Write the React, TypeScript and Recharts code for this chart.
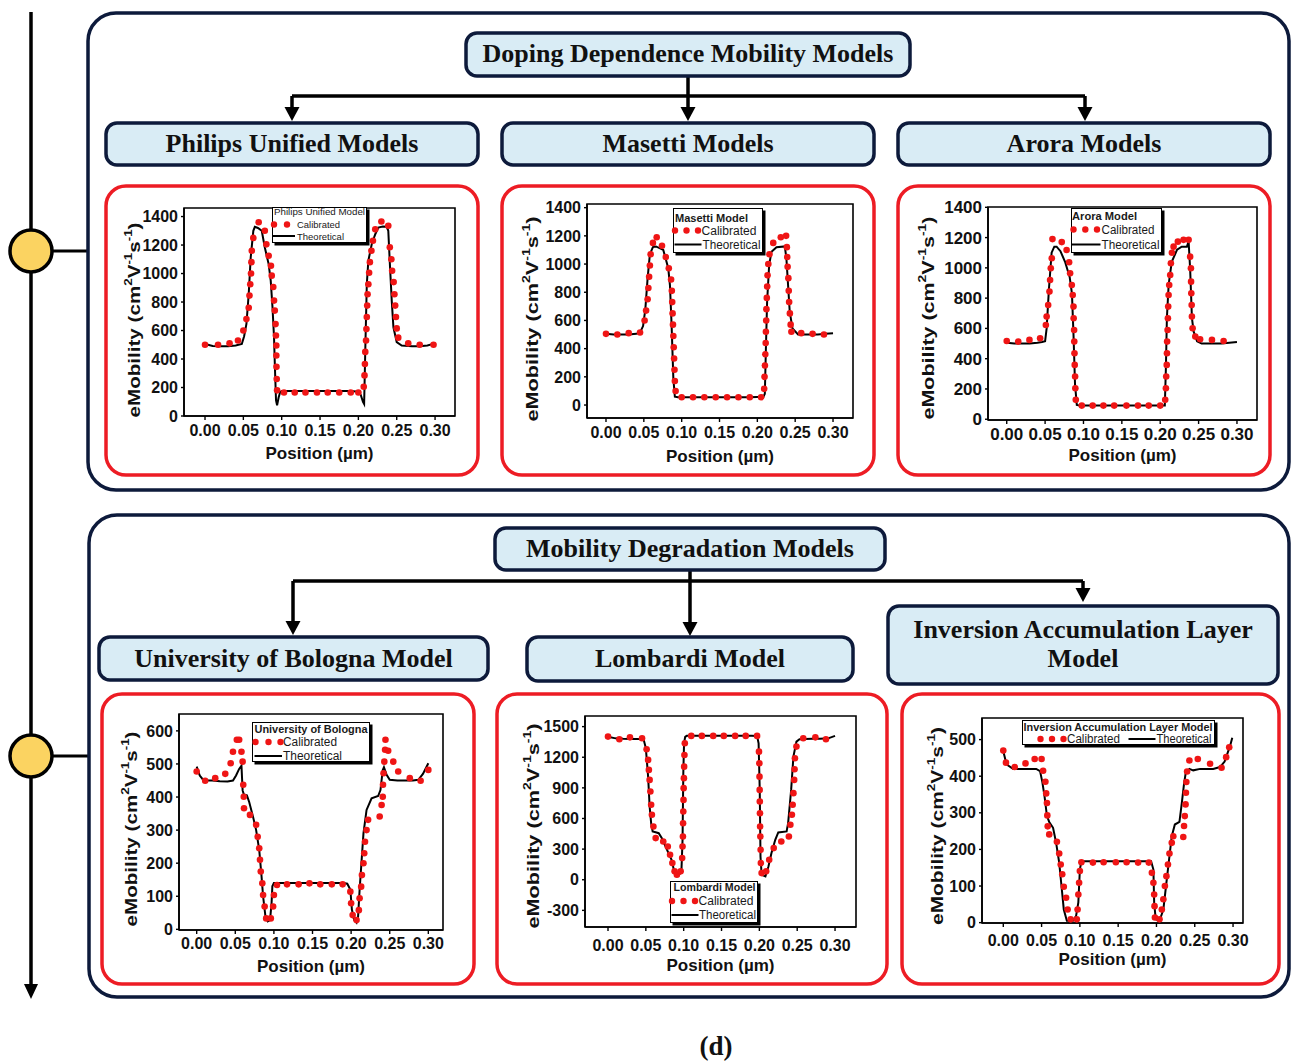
import React from "react";
import {
  ComposedChart,
  Line,
  Scatter,
  XAxis,
  YAxis,
  ReferenceArea,
  Legend,
} from "recharts";

const SANS = "'Liberation Sans', Arial, sans-serif";
const SERIF = "'Liberation Serif', 'Times New Roman', serif";
const NAVY = "#0d1a3b";
const PALE = "#d9ecf5";
const RED = "#ed1c24";
const DOT = "#ef1515";

const xTicks = [0, 0.05, 0.1, 0.15, 0.2, 0.25, 0.3];
const seriesNames = ["Calibrated", "Theoretical"];

// Philips Unified Model
const philipsTheoX = [0, 0.01, 0.02, 0.03, 0.04, 0.048, 0.051, 0.054, 0.057, 0.0596, 0.063, 0.065, 0.069, 0.074, 0.078, 0.083, 0.0857, 0.088, 0.09, 0.0913, 0.0926, 0.094, 0.096, 0.098, 0.1, 0.13, 0.16, 0.19, 0.2, 0.203, 0.206, 0.2075, 0.209, 0.211, 0.213, 0.2174, 0.222, 0.226, 0.232, 0.237, 0.239, 0.2413, 0.2435, 0.2457, 0.25, 0.2565, 0.27, 0.28, 0.29, 0.3];
const philipsTheoY = [505, 492, 490, 490, 495, 506, 560, 646, 856, 1113, 1300, 1328, 1320, 1300, 1183, 1066, 950, 763, 553, 320, 110, 75, 130, 168, 175, 175, 175, 175, 170, 150, 100, 85, 460, 926, 1090, 1206, 1276, 1323, 1330, 1328, 1300, 1043, 810, 623, 518, 495, 490, 490, 495, 510];
const philipsCalX = [0, 0.017, 0.032, 0.043, 0.05, 0.054, 0.057, 0.058, 0.059, 0.06, 0.0605, 0.061, 0.063, 0.07, 0.078, 0.08, 0.083, 0.086, 0.087, 0.089, 0.09, 0.091, 0.092, 0.0925, 0.093, 0.093, 0.0932, 0.0935, 0.094, 0.103, 0.117, 0.131, 0.146, 0.16, 0.175, 0.19, 0.2, 0.207, 0.208, 0.2085, 0.209, 0.21, 0.2105, 0.211, 0.2115, 0.212, 0.213, 0.214, 0.215, 0.217, 0.219, 0.222, 0.23, 0.239, 0.241, 0.243, 0.244, 0.246, 0.247, 0.248, 0.249, 0.25, 0.252, 0.265, 0.28, 0.298];
const philipsCalY = [500, 500, 510, 530, 600, 680, 760, 845, 925, 1000, 1080, 1160, 1250, 1360, 1300, 1205, 1125, 1055, 985, 905, 810, 740, 645, 565, 495, 425, 345, 260, 180, 165, 165, 165, 165, 165, 165, 165, 165, 205, 285, 365, 450, 530, 610, 695, 775, 855, 925, 1005, 1080, 1160, 1230, 1310, 1365, 1335, 1185, 1100, 1020, 940, 855, 775, 695, 615, 550, 510, 500, 500];
const philipsYTicks = [0, 200, 400, 600, 800, 1000, 1200, 1400];

// Masetti Model
const masettiTheoX = [0, 0.01, 0.02, 0.03, 0.04, 0.045, 0.049, 0.052, 0.055, 0.058, 0.062, 0.066, 0.0757, 0.0823, 0.0845, 0.0867, 0.089, 0.091, 0.095, 0.13, 0.16, 0.19, 0.208, 0.2099, 0.2112, 0.2129, 0.2156, 0.2187, 0.2253, 0.2363, 0.2384, 0.2406, 0.2428, 0.2464, 0.2538, 0.27, 0.28, 0.29, 0.3];
const masettiTheoY = [505, 500, 500, 500, 505, 515, 560, 680, 900, 1070, 1120, 1125, 1100, 970, 851, 567, 189, 59, 55, 55, 55, 55, 58, 80, 378, 733, 993, 1088, 1120, 1125, 1040, 851, 662, 544, 501, 500, 500, 505, 510];
const masettiCalX = [0, 0.015, 0.03, 0.045, 0.051, 0.053, 0.055, 0.056, 0.057, 0.058, 0.059, 0.062, 0.067, 0.074, 0.079, 0.083, 0.086, 0.087, 0.0875, 0.088, 0.0885, 0.089, 0.0895, 0.09, 0.0905, 0.091, 0.092, 0.1, 0.115, 0.13, 0.145, 0.16, 0.175, 0.19, 0.205, 0.209, 0.2095, 0.21, 0.2105, 0.211, 0.2113, 0.2117, 0.212, 0.2125, 0.213, 0.2135, 0.2145, 0.216, 0.221, 0.231, 0.238, 0.239, 0.2395, 0.24, 0.241, 0.2415, 0.242, 0.243, 0.244, 0.245, 0.258, 0.273, 0.288];
const masettiCalY = [505, 500, 510, 515, 600, 670, 750, 830, 910, 990, 1070, 1150, 1190, 1130, 1050, 970, 890, 810, 730, 650, 570, 490, 410, 330, 250, 170, 100, 55, 55, 55, 55, 55, 55, 55, 55, 115, 200, 280, 360, 440, 520, 600, 680, 760, 840, 920, 1000, 1070, 1150, 1190, 1200, 1120, 1050, 980, 900, 810, 730, 650, 570, 520, 510, 505, 500];
const masettiYTicks = [0, 200, 400, 600, 800, 1000, 1200, 1400];

// Arora Model
const aroraTheoX = [0, 0.01, 0.02, 0.03, 0.04, 0.046, 0.05, 0.052, 0.055, 0.0585, 0.062, 0.065, 0.07, 0.076, 0.082, 0.085, 0.087, 0.089, 0.0913, 0.095, 0.13, 0.16, 0.19, 0.206, 0.2074, 0.2087, 0.211, 0.215, 0.222, 0.228, 0.2348, 0.237, 0.239, 0.2413, 0.2435, 0.248, 0.254, 0.26, 0.27, 0.28, 0.29, 0.3];
const aroraTheoY = [505, 500, 500, 500, 505, 510, 515, 600, 860, 1100, 1140, 1140, 1110, 1040, 940, 830, 560, 230, 95, 90, 90, 90, 90, 90, 340, 670, 890, 1040, 1120, 1140, 1140, 1175, 990, 670, 580, 515, 500, 500, 500, 500, 505, 510];
const aroraCalX = [0, 0.015, 0.0296, 0.0435, 0.051, 0.052, 0.054, 0.0557, 0.0565, 0.0574, 0.0587, 0.0596, 0.0717, 0.078, 0.0813, 0.0826, 0.0848, 0.086, 0.087, 0.0872, 0.0878, 0.088, 0.0883, 0.0886, 0.0891, 0.0894, 0.09, 0.0978, 0.112, 0.126, 0.14, 0.156, 0.171, 0.185, 0.2, 0.2065, 0.2074, 0.2078, 0.2085, 0.2088, 0.209, 0.2096, 0.21, 0.2104, 0.2109, 0.2117, 0.213, 0.2139, 0.2152, 0.2174, 0.223, 0.2304, 0.237, 0.239, 0.24, 0.2402, 0.2405, 0.241, 0.2413, 0.2422, 0.2457, 0.252, 0.2674, 0.2826];
const aroraCalY = [517, 513, 524, 535, 623, 678, 755, 843, 920, 997, 1063, 1190, 1170, 1118, 1037, 964, 887, 821, 744, 667, 590, 513, 436, 359, 282, 205, 128, 90, 90, 90, 90, 90, 90, 90, 90, 128, 205, 282, 359, 436, 513, 590, 667, 744, 821, 887, 953, 1030, 1100, 1140, 1173, 1185, 1185, 1074, 997, 909, 832, 755, 678, 601, 546, 528, 524, 517];
const aroraYTicks = [0, 200, 400, 600, 800, 1000, 1200, 1400];

// University of Bologna
const bolognaTheoX = [0, 0.004, 0.009, 0.02, 0.03, 0.04, 0.047, 0.051, 0.055, 0.058, 0.0595, 0.061, 0.065, 0.068, 0.073, 0.077, 0.081, 0.084, 0.086, 0.089, 0.092, 0.095, 0.097, 0.098, 0.1, 0.13, 0.16, 0.19, 0.195, 0.199, 0.201, 0.204, 0.207, 0.209, 0.211, 0.216, 0.22, 0.2265, 0.235, 0.238, 0.241, 0.2425, 0.246, 0.25, 0.26, 0.27, 0.28, 0.287, 0.293, 0.3];
const bolognaTheoY = [492, 465, 450, 450, 448, 447, 450, 465, 485, 495, 420, 408, 405, 385, 340, 300, 240, 160, 100, 40, 24, 28, 80, 130, 140, 140, 140, 140, 138, 120, 60, 28, 20, 38, 119, 290, 361, 396, 403, 421, 482, 490, 467, 452, 450, 450, 450, 452, 470, 502];
const bolognaCalX = [0, 0.011, 0.024, 0.037, 0.044, 0.047, 0.052, 0.055, 0.058, 0.0595, 0.0603, 0.061, 0.0613, 0.069, 0.077, 0.079, 0.081, 0.082, 0.083, 0.085, 0.086, 0.088, 0.09, 0.096, 0.099, 0.1, 0.104, 0.117, 0.132, 0.146, 0.16, 0.175, 0.189, 0.199, 0.2, 0.202, 0.207, 0.21, 0.211, 0.213, 0.214, 0.216, 0.217, 0.218, 0.22, 0.222, 0.237, 0.2395, 0.241, 0.2413, 0.242, 0.243, 0.244, 0.2445, 0.248, 0.2546, 0.261, 0.276, 0.29, 0.3];
const bolognaCalY = [477, 449, 457, 470, 502, 537, 573, 573, 537, 507, 437, 401, 366, 346, 316, 280, 245, 210, 175, 139, 104, 69, 33, 33, 69, 104, 134, 136, 136, 139, 136, 136, 136, 114, 79, 43, 28, 58, 94, 129, 164, 200, 230, 265, 300, 331, 341, 376, 401, 437, 472, 507, 543, 573, 540, 507, 477, 457, 449, 482];
const bolognaYTicks = [0, 100, 200, 300, 400, 500, 600];

// Lombardi Model
const lombardiTheoX = [0, 0.01, 0.02, 0.03, 0.04, 0.047, 0.05, 0.053, 0.055, 0.057, 0.059, 0.063, 0.067, 0.071, 0.078, 0.084, 0.087, 0.089, 0.093, 0.097, 0.0985, 0.0995, 0.1005, 0.102, 0.104, 0.13, 0.16, 0.19, 0.197, 0.199, 0.2005, 0.2015, 0.203, 0.208, 0.212, 0.216, 0.221, 0.225, 0.236, 0.238, 0.242, 0.245, 0.249, 0.253, 0.26, 0.27, 0.28, 0.291, 0.3];
const lombardiTheoY = [1400, 1385, 1380, 1378, 1378, 1376, 1290, 1010, 717, 554, 473, 465, 456, 408, 293, 196, 98, 49, 39, 82, 391, 1040, 1340, 1400, 1410, 1410, 1410, 1410, 1408, 1337, 880, 228, 49, 33, 130, 261, 391, 463, 473, 554, 880, 1206, 1353, 1376, 1378, 1380, 1380, 1385, 1409];
const lombardiCalX = [0, 0.015, 0.029, 0.045, 0.051, 0.053, 0.054, 0.055, 0.056, 0.057, 0.058, 0.06, 0.063, 0.073, 0.079, 0.082, 0.085, 0.088, 0.091, 0.096, 0.098, 0.0985, 0.099, 0.0992, 0.0995, 0.0998, 0.1, 0.1003, 0.1006, 0.101, 0.1015, 0.11, 0.124, 0.139, 0.153, 0.168, 0.182, 0.197, 0.1995, 0.2, 0.2002, 0.2004, 0.2006, 0.2008, 0.201, 0.2013, 0.2017, 0.202, 0.203, 0.209, 0.213, 0.219, 0.229, 0.239, 0.241, 0.243, 0.244, 0.245, 0.246, 0.2465, 0.247, 0.249, 0.258, 0.274, 0.288];
const lombardiCalY = [1402, 1376, 1395, 1386, 1278, 1174, 1076, 978, 864, 734, 636, 522, 408, 375, 326, 245, 163, 82, 49, 82, 212, 326, 424, 554, 668, 782, 897, 995, 1108, 1222, 1337, 1409, 1409, 1409, 1409, 1409, 1409, 1409, 1255, 1141, 1010, 880, 766, 652, 522, 424, 293, 163, 65, 82, 196, 310, 375, 424, 538, 636, 734, 848, 978, 1082, 1190, 1304, 1386, 1395, 1376];
const lombardiYTicks = [-300, 0, 300, 600, 900, 1200, 1500];

// Inversion Accumulation Layer Model
const inversionTheoX = [0, 0.0043, 0.013, 0.02, 0.03, 0.043, 0.048, 0.051, 0.054, 0.057, 0.06, 0.065, 0.069, 0.073, 0.076, 0.079, 0.083, 0.091, 0.095, 0.098, 0.1, 0.102, 0.13, 0.16, 0.193, 0.196, 0.197, 0.199, 0.204, 0.209, 0.213, 0.217, 0.22, 0.224, 0.23, 0.233, 0.236, 0.238, 0.243, 0.248, 0.257, 0.274, 0.283, 0.289, 0.296, 0.299];
const inversionTheoY = [468, 432, 420, 420, 420, 420, 414, 384, 343, 291, 275, 259, 218, 164, 100, 36, 5, 5, 18, 55, 145, 168, 168, 168, 168, 145, 55, 9, 5, 36, 109, 182, 236, 268, 275, 325, 379, 406, 420, 416, 420, 420, 425, 440, 482, 505];
const inversionCalX = [0, 0.0035, 0.015, 0.029, 0.041, 0.05, 0.052, 0.055, 0.056, 0.057, 0.0575, 0.058, 0.06, 0.07, 0.073, 0.075, 0.077, 0.079, 0.082, 0.084, 0.088, 0.096, 0.097, 0.098, 0.099, 0.1, 0.102, 0.117, 0.131, 0.147, 0.161, 0.176, 0.19, 0.194, 0.196, 0.197, 0.1975, 0.198, 0.204, 0.207, 0.209, 0.211, 0.213, 0.215, 0.217, 0.22, 0.222, 0.235, 0.236, 0.237, 0.238, 0.2385, 0.239, 0.24, 0.243, 0.254, 0.27, 0.285, 0.291, 0.295];
const inversionCalY = [470, 437, 425, 435, 447, 447, 415, 385, 353, 327, 293, 263, 241, 221, 189, 159, 132, 98, 68, 36, 9, 9, 36, 77, 109, 141, 165, 164, 165, 165, 165, 164, 164, 136, 109, 77, 45, 14, 9, 36, 64, 100, 127, 159, 189, 218, 236, 234, 264, 291, 323, 355, 384, 413, 443, 447, 434, 423, 452, 479];
const inversionYTicks = [0, 100, 200, 300, 400, 500];

type Pt = { x: number; y: number };
type Box = { x: number; y: number; w: number; h: number };
type Plot = { l: number; t: number; r: number; b: number };

type LegendSpec = {
  x: number;
  y: number;
  w: number;
  h: number;
  title: string;
  titleX: number;
  titleY: number;
  titleSize: number;
  titleBold: boolean;
  titleLen: number;
  rowSize: number;
  calY: number;
  calDots: number[];
  calTextX: number;
  calLen: number;
  theoY: number;
  theoLine: [number, number];
  theoTextX: number;
  theoLen: number;
};

type PanelSpec = {
  key: string;
  box: Box;
  plot: Plot;
  xDomain: [number, number];
  yDomain: [number, number];
  yTicks: number[];
  tickFont: number;
  xTickGap: number;
  yLabel: { x: number; y: number; len: number };
  xLabelDy: number;
  theoX: number[];
  theoY: number[];
  calX: number[];
  calY: number[];
  legend: LegendSpec;
};

const zip = (xs: number[], ys: number[]): Pt[] =>
  xs.map((x, i) => ({ x, y: ys[i] }));

const panels: PanelSpec[] = [
  {
    key: "philips",
    box: { x: 106, y: 186, w: 372, h: 289 },
    plot: { l: 184, t: 208, r: 455, b: 416 },
    xDomain: [-0.0274, 0.326],
    yDomain: [0, 1460],
    yTicks: philipsYTicks,
    tickFont: 16,
    xTickGap: 5,
    yLabel: { x: 134, y: 320, len: 195 },
    xLabelDy: 37,
    theoX: philipsTheoX,
    theoY: philipsTheoY,
    calX: philipsCalX,
    calY: philipsCalY,
    legend: {
      x: 272, y: 207, w: 95, h: 36,
      title: "Philips Unified Model", titleX: 2, titleY: 4.5, titleSize: 9.5, titleBold: false, titleLen: 91,
      rowSize: 9.5, calY: 17.5, calDots: [2, 15], calTextX: 25, calLen: 43,
      theoY: 29, theoLine: [1, 23], theoTextX: 25, theoLen: 47,
    },
  },
  {
    key: "masetti",
    box: { x: 502, y: 186, w: 372, h: 289 },
    plot: { l: 587, t: 204, r: 853, b: 418 },
    xDomain: [-0.0251, 0.3264],
    yDomain: [-92, 1426],
    yTicks: masettiYTicks,
    tickFont: 16,
    xTickGap: 5,
    yLabel: { x: 532, y: 319, len: 205 },
    xLabelDy: 38,
    theoX: masettiTheoX,
    theoY: masettiTheoY,
    calX: masettiCalX,
    calY: masettiCalY,
    legend: {
      x: 673, y: 208, w: 90, h: 45,
      title: "Masetti Model", titleX: 2, titleY: 9.5, titleSize: 11, titleBold: true, titleLen: 73,
      rowSize: 12, calY: 22.5, calDots: [2, 13.5, 25], calTextX: 28.5, calLen: 55,
      theoY: 36.5, theoLine: [1.5, 28.5], theoTextX: 29.5, theoLen: 58,
    },
  },
  {
    key: "arora",
    box: { x: 898, y: 186, w: 372, h: 289 },
    plot: { l: 988, t: 207, r: 1257, b: 420 },
    xDomain: [-0.0244, 0.3261],
    yDomain: [-5, 1402],
    yTicks: aroraYTicks,
    tickFont: 17,
    xTickGap: 4,
    yLabel: { x: 928, y: 318, len: 203 },
    xLabelDy: 35,
    theoX: aroraTheoX,
    theoY: aroraTheoY,
    calX: aroraCalX,
    calY: aroraCalY,
    legend: {
      x: 1071, y: 208, w: 91, h: 45,
      title: "Arora Model", titleX: 1, titleY: 8, titleSize: 11, titleBold: true, titleLen: 65,
      rowSize: 12, calY: 21.5, calDots: [2.5, 14.3, 26], calTextX: 30.5, calLen: 53,
      theoY: 36.5, theoLine: [1, 29.5], theoTextX: 30.5, theoLen: 58,
    },
  },
  {
    key: "bologna",
    box: { x: 102, y: 694, w: 372, h: 290 },
    plot: { l: 179, t: 714, r: 443, b: 930 },
    xDomain: [-0.0229, 0.319],
    yDomain: [-2, 651],
    yTicks: bolognaYTicks,
    tickFont: 16,
    xTickGap: 4,
    yLabel: { x: 131, y: 829, len: 195 },
    xLabelDy: 36,
    theoX: bolognaTheoX,
    theoY: bolognaTheoY,
    calX: bolognaCalX,
    calY: bolognaCalY,
    legend: {
      x: 252, y: 722, w: 118, h: 40,
      title: "University of Bologna", titleX: 2.5, titleY: 6.5, titleSize: 11, titleBold: true, titleLen: 113,
      rowSize: 12, calY: 20, calDots: [3.5, 16.5, 28.5], calTextX: 31, calLen: 54,
      theoY: 34, theoLine: [2.5, 30], theoTextX: 31, theoLen: 59,
    },
  },
  {
    key: "lombardi",
    box: { x: 497, y: 694, w: 390, h: 290 },
    plot: { l: 585, t: 716, r: 856, b: 927 },
    xDomain: [-0.0304, 0.3277],
    yDomain: [-463, 1604],
    yTicks: lombardiYTicks,
    tickFont: 16,
    xTickGap: 9,
    yLabel: { x: 533, y: 826, len: 205 },
    xLabelDy: 38,
    theoX: lombardiTheoX,
    theoY: lombardiTheoY,
    calX: lombardiCalX,
    calY: lombardiCalY,
    legend: {
      x: 670, y: 881, w: 88, h: 42,
      title: "Lombardi Model", titleX: 3.5, titleY: 6.5, titleSize: 10, titleBold: true, titleLen: 82,
      rowSize: 12, calY: 20, calDots: [2, 13.5, 25], calTextX: 28.5, calLen: 55,
      theoY: 34, theoLine: [1.5, 28.5], theoTextX: 29, theoLen: 57,
    },
  },
  {
    key: "inversion",
    box: { x: 902, y: 694, w: 377, h: 290 },
    plot: { l: 982, t: 718, r: 1243, b: 923 },
    xDomain: [-0.0278, 0.313],
    yDomain: [-1, 559],
    yTicks: inversionYTicks,
    tickFont: 16,
    xTickGap: 8,
    yLabel: { x: 937, y: 826, len: 198 },
    xLabelDy: 36,
    theoX: inversionTheoX,
    theoY: inversionTheoY,
    calX: inversionCalX,
    calY: inversionCalY,
    legend: {
      x: 1022, y: 720, w: 193, h: 25,
      title: "Inversion Accumulation Layer Model", titleX: 1.5, titleY: 6.5, titleSize: 10.9, titleBold: true, titleLen: 189,
      rowSize: 12, calY: 19, calDots: [18.5, 30, 41.5], calTextX: 45, calLen: 53,
      theoY: 19, theoLine: [106.5, 133.5], theoTextX: 134.5, theoLen: 55,
    },
  },
];

function LegendBox({ spec }: { spec: LegendSpec }) {
  const s = spec;
  return (
    <svg width={s.w + 4} height={s.h + 4} style={{ display: "block", overflow: "visible" }}>
      <rect x={2.5} y={2.5} width={s.w} height={s.h} fill="#000" />
      <rect x={0.5} y={0.5} width={s.w - 1} height={s.h - 1} fill="#fff" stroke="#000" strokeWidth={1} />
      <text
        x={s.titleX}
        y={s.titleY}
        dominantBaseline="central"
        fontSize={s.titleSize}
        fontWeight={s.titleBold ? 700 : 400}
        fontFamily={SANS}
        fill="#1a1a1a"
        textLength={s.titleLen}
        lengthAdjust="spacingAndGlyphs"
      >
        {s.title}
      </text>
      {s.calDots.map((cx) => (
        <circle key={cx} cx={cx} cy={s.calY} r={3.2} fill={DOT} />
      ))}
      <text
        x={s.calTextX}
        y={s.calY}
        dominantBaseline="central"
        fontSize={s.rowSize}
        fontFamily={SANS}
        fill="#1a1a1a"
        textLength={s.calLen}
        lengthAdjust="spacingAndGlyphs"
      >
        {seriesNames[0]}
      </text>
      <line x1={s.theoLine[0]} x2={s.theoLine[1]} y1={s.theoY} y2={s.theoY} stroke="#000" strokeWidth={2} />
      <text
        x={s.theoTextX}
        y={s.theoY}
        dominantBaseline="central"
        fontSize={s.rowSize}
        fontFamily={SANS}
        fill="#1a1a1a"
        textLength={s.theoLen}
        lengthAdjust="spacingAndGlyphs"
      >
        {seriesNames[1]}
      </text>
    </svg>
  );
}

function MobilityPanel({ p }: { p: PanelSpec }) {
  const cx = p.box.x + 3;
  const cy = p.box.y + 3;
  const cw = p.box.w - 6;
  const ch = p.box.h - 6;
  const theo = zip(p.theoX, p.theoY);
  const cal = zip(p.calX, p.calY);
  const margin = { top: p.plot.t - cy, right: cx + cw - p.plot.r, left: 0, bottom: 0 };
  const tick = { fontSize: p.tickFont, fontWeight: 700, fill: "#111", fontFamily: SANS };

  const yLx = p.yLabel.x - cx;
  const yLy = p.yLabel.y - cy;
  const renderYLabel = () => (
    <text
      x={yLx}
      y={yLy}
      transform={`rotate(-90 ${yLx} ${yLy})`}
      textAnchor="middle"
      dominantBaseline="central"
      fontSize={17}
      fontWeight={700}
      fontFamily={SANS}
      fill="#111"
      textLength={p.yLabel.len}
      lengthAdjust="spacingAndGlyphs"
    >
      eMobility (cm
      <tspan dy={-6} fontSize={11}>2</tspan>
      <tspan dy={6}>V</tspan>
      <tspan dy={-6} fontSize={11}>-1</tspan>
      <tspan dy={6}>s</tspan>
      <tspan dy={-6} fontSize={11}>-1</tspan>
      <tspan dy={6}>)</tspan>
    </text>
  );
  const xLx = (p.plot.l + p.plot.r) / 2 - cx;
  const xLy = p.plot.b + p.xLabelDy - cy;
  const renderXLabel = () => (
    <text
      x={xLx}
      y={xLy}
      textAnchor="middle"
      dominantBaseline="central"
      fontSize={17}
      fontWeight={700}
      fontFamily={SANS}
      fill="#111"
    >
      Position (µm)
    </text>
  );

  return (
    <div style={{ position: "absolute", left: cx, top: cy }}>
      <ComposedChart width={cw} height={ch} margin={margin}>
        <XAxis
          type="number"
          dataKey="x"
          domain={p.xDomain}
          ticks={xTicks}
          interval={0}
          allowDataOverflow
          tickFormatter={(v: number) => v.toFixed(2)}
          height={cy + ch - p.plot.b}
          tickSize={4}
          tickMargin={p.xTickGap}
          axisLine={{ stroke: "#000", strokeWidth: 1.6 }}
          tickLine={{ stroke: "#000", strokeWidth: 1.4 }}
          tick={tick}
          label={renderXLabel}
        />
        <YAxis
          type="number"
          dataKey="y"
          domain={p.yDomain}
          ticks={p.yTicks}
          interval={0}
          allowDataOverflow
          width={p.plot.l - cx}
          tickSize={3}
          tickMargin={3}
          axisLine={{ stroke: "#000", strokeWidth: 1.6 }}
          tickLine={{ stroke: "#000", strokeWidth: 1.4 }}
          tick={tick}
          label={renderYLabel}
        />
        <ReferenceArea
          x1={p.xDomain[0]}
          x2={p.xDomain[1]}
          y1={p.yDomain[0]}
          y2={p.yDomain[1]}
          fill="none"
          stroke="#000"
          strokeWidth={1.6}
          fillOpacity={0}
        />
        <Line
          data={theo}
          dataKey="y"
          name={seriesNames[1]}
          type="linear"
          stroke="#000"
          strokeWidth={2}
          dot={false}
          activeDot={false}
          isAnimationActive={false}
        />
        <Scatter
          data={cal}
          dataKey="y"
          name={seriesNames[0]}
          fill={DOT}
          isAnimationActive={false}
          shape={(s: any) => <circle cx={s.cx} cy={s.cy} r={3.3} fill={DOT} />}
        />
        <Legend
          layout="horizontal"
          verticalAlign="middle"
          align="center"
          wrapperStyle={{
            left: p.legend.x - cx,
            top: p.legend.y - cy,
            width: p.legend.w + 4,
            height: p.legend.h + 4,
          }}
          content={() => <LegendBox spec={p.legend} />}
        />
      </ComposedChart>
    </div>
  );
}

function HeadBox({ x, y, w, h, lines }: { x: number; y: number; w: number; h: number; lines: { text: string; base: number }[] }) {
  return (
    <g>
      <rect x={x} y={y} width={w} height={h} rx={11} fill={PALE} stroke={NAVY} strokeWidth={3.5} />
      {lines.map((l) => (
        <text
          key={l.text}
          x={x + w / 2}
          y={l.base}
          textAnchor="middle"
          fontFamily={SERIF}
          fontWeight={700}
          fontSize={26}
          fill="#111"
        >
          {l.text}
        </text>
      ))}
    </g>
  );
}

function Arrow({ x, y1, y2 }: { x: number; y1: number; y2: number }) {
  return (
    <g>
      <line x1={x} x2={x} y1={y1} y2={y2 - 12} stroke="#000" strokeWidth={3.5} />
      <polygon points={`${x - 7.5},${y2 - 14} ${x + 7.5},${y2 - 14} ${x},${y2}`} fill="#000" />
    </g>
  );
}

function Diagram() {
  return (
    <svg width={1292} height={1062} style={{ position: "absolute", left: 0, top: 0 }}>
      {/* timeline */}
      <line x1={31} x2={31} y1={12} y2={988} stroke="#000" strokeWidth={3.5} />
      <polygon points="24,984 38,984 31,999" fill="#000" />
      {[251, 756].map((cy) => (
        <g key={cy}>
          <line x1={50} x2={88} y1={cy} y2={cy} stroke="#000" strokeWidth={3} />
          <circle cx={31} cy={cy} r={21} fill="#fbd361" stroke="#000" strokeWidth={3.5} />
        </g>
      ))}

      {/* outer panels */}
      <rect x={88} y={13} width={1201} height={477} rx={28} fill="none" stroke={NAVY} strokeWidth={3.5} />
      <rect x={89} y={515} width={1200} height={482} rx={28} fill="none" stroke={NAVY} strokeWidth={3.5} />

      {/* top flow */}
      <line x1={292} x2={1085} y1={96} y2={96} stroke="#000" strokeWidth={3.5} />
      <Arrow x={688} y1={76} y2={121} />
      <Arrow x={292} y1={96} y2={121} />
      <Arrow x={1085} y1={96} y2={121} />
      <HeadBox x={466} y={33} w={444} h={43} lines={[{ text: "Doping Dependence Mobility Models", base: 62 }]} />
      <HeadBox x={106} y={123} w={372} h={42} lines={[{ text: "Philips Unified Models", base: 152 }]} />
      <HeadBox x={502} y={123} w={372} h={42} lines={[{ text: "Masetti Models", base: 152 }]} />
      <HeadBox x={898} y={123} w={372} h={42} lines={[{ text: "Arora Models", base: 152 }]} />

      {/* bottom flow */}
      <line x1={293} x2={1083} y1={581} y2={581} stroke="#000" strokeWidth={3.5} />
      <Arrow x={690} y1={570} y2={636} />
      <Arrow x={293} y1={581} y2={635} />
      <Arrow x={1083} y1={581} y2={602} />
      <HeadBox x={495} y={528} w={390} h={42} lines={[{ text: "Mobility Degradation Models", base: 557 }]} />
      <HeadBox x={99} y={637} w={389} h={43} lines={[{ text: "University of Bologna Model", base: 667 }]} />
      <HeadBox x={527} y={637} w={326} h={44} lines={[{ text: "Lombardi Model", base: 667 }]} />
      <HeadBox
        x={888}
        y={606}
        w={390}
        h={78}
        lines={[
          { text: "Inversion Accumulation Layer", base: 638 },
          { text: "Model", base: 667 },
        ]}
      />

      {/* chart frames */}
      {panels.map((p) => (
        <rect
          key={p.key}
          x={p.box.x}
          y={p.box.y}
          width={p.box.w}
          height={p.box.h}
          rx={20}
          fill="#fff"
          stroke={RED}
          strokeWidth={3.5}
        />
      ))}

      <text x={716} y={1055} textAnchor="middle" fontFamily={SERIF} fontWeight={700} fontSize={27} fill="#111">
        (d)
      </text>
    </svg>
  );
}

export default function App() {
  return (
    <div
      style={{
        position: "absolute",
        left: 0,
        top: 0,
        width: 1292,
        height: 1062,
        background: "#fff",
        fontFamily: SANS,
      }}
    >
      <Diagram />
      {panels.map((p) => (
        <MobilityPanel key={p.key} p={p} />
      ))}
    </div>
  );
}
